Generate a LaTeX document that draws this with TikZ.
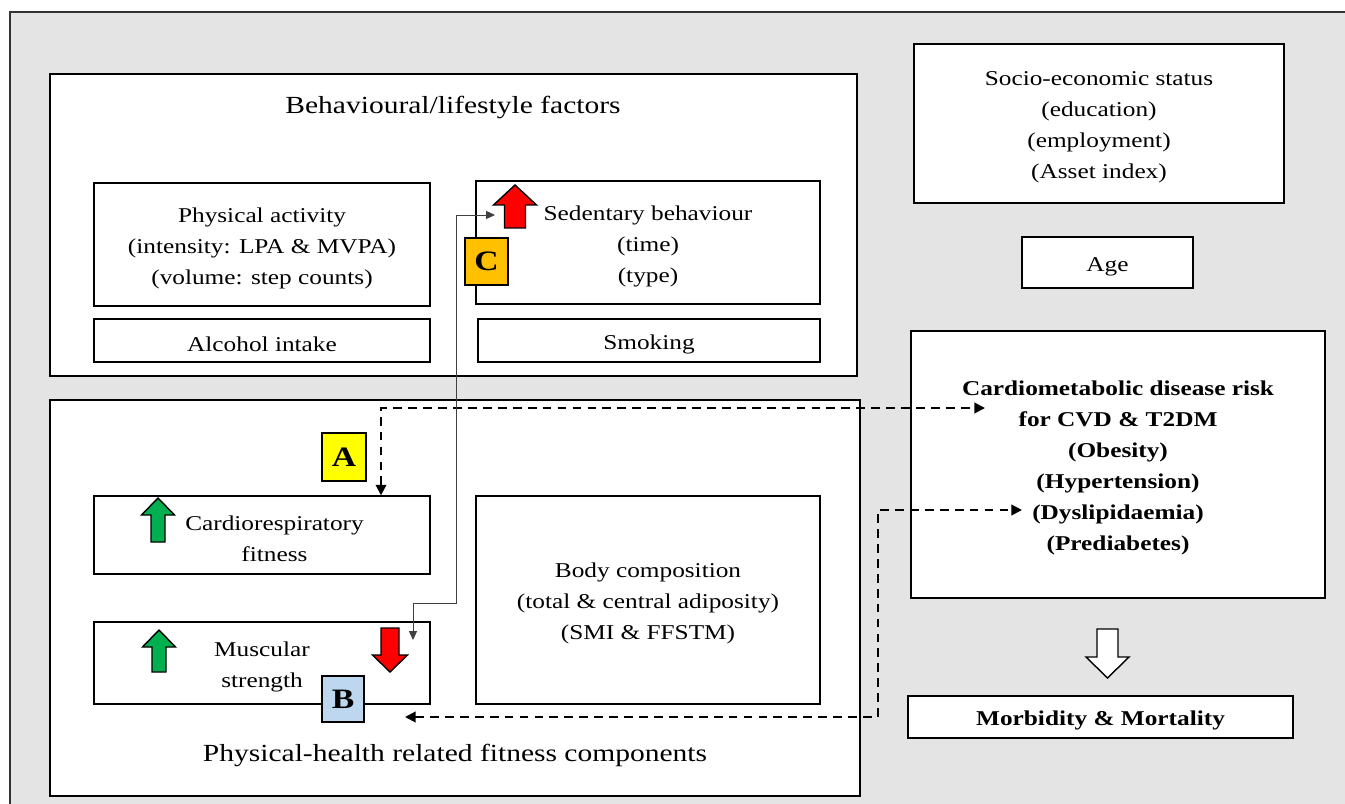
\documentclass[tikz,border=0pt]{standalone}
\usepackage{fontspec}
\setmainfont{Liberation Serif}[FakeStretch=1.2]
\usetikzlibrary{positioning, arrows.meta}

\definecolor{bggray}{HTML}{E4E4E4}
\definecolor{upgreen}{HTML}{00B050}
\definecolor{downred}{HTML}{FF0000}
\definecolor{markyellow}{HTML}{FFFF00}
\definecolor{markorange}{HTML}{FFC000}
\definecolor{markblue}{HTML}{BDD7EE}

\newcommand{\bodyfont}{\fontsize{12}{17.6}\selectfont}
\newcommand{\titlefont}{\fontsize{14}{17.6}\selectfont}
\newcommand{\liftline}{\rule{0pt}{12.5pt}}
% block arrow: fill, tip, length, half width, shaft half width, head length, direction
\newcommand{\blockarr}[7]{\draw[line width=0.8pt, fill=#1, shift={#2}, yscale=#7] (0,0) -- (#4,#6) -- (#5,#6) -- (#5,#3) -- (-#5,#3) -- (-#5,#6) -- (-#4,#6) -- cycle;}

\begin{document}
\begin{tikzpicture}[x=0.02cm, y=-0.02cm,
    lowtext/.style={execute at begin node={\rule{0pt}{#1}}},
    lowtext/.default=12.5pt,
    box/.style={draw, line width=0.8pt, fill=white, inner sep=0pt, align=center, font=\bodyfont, lowtext},
    markbox/.style={draw, line width=0.8pt, inner sep=0pt, font=\fontsize{16}{18}\selectfont\bfseries},
    dashline/.style={line width=1.1pt, dash pattern=on 5pt off 3.5pt, {Triangle[length=6pt,width=6pt]}-{Triangle[length=6pt,width=6pt]}},
    thinline/.style={line width=0.5pt, draw=black!75, {Triangle[length=5pt,width=4.5pt]}-{Triangle[length=5pt,width=4.5pt]}}]
        \useasboundingbox (0,0) rectangle (1345,804);
        \draw[line width=1.2pt, draw=black!80, fill=bggray] (10,12) rectangle (1375,830);

        % Nodes
        \node[box, minimum width=16.14cm, minimum height=6.04cm] (beh) at (453.5,225) {};
        \node[font=\titlefont, lowtext=12.5pt] (behtitle) at (453,105) {Behavioural/lifestyle factors};
        \node[box, minimum width=6.72cm, minimum height=2.46cm] (pa) at (262,244.5) {\liftline Physical activity\\(intensity: LPA \& MVPA)\\(volume: step counts)};
        \node[box, minimum width=6.88cm, minimum height=2.46cm] (sb) at (648,242.5) {\liftline Sedentary behaviour\\(time)\\(type)};
        \node[box, lowtext=10pt, minimum width=6.72cm, minimum height=0.86cm] (alc) at (262,340.5) {Alcohol intake};
        \node[box, lowtext=11pt, minimum width=6.84cm, minimum height=0.86cm] (smk) at (649,340.5) {Smoking};

        \node[box, minimum width=7.4cm, minimum height=3.18cm] (ses) at (1099,123.5) {\liftline Socio-economic status\\(education)\\(employment)\\(Asset index)};
        \node[box, minimum width=3.42cm, minimum height=1.02cm] (age) at (1107.5,262.5) {Age};
        \node[box, minimum width=8.28cm, minimum height=5.34cm, font=\bodyfont\bfseries] (cmd) at (1118,464.5) {\liftline Cardiometabolic disease risk\\for CVD \& T2DM\\(Obesity)\\(Hypertension)\\(Dyslipidaemia)\\(Prediabetes)};
        \node[box, lowtext=10.5pt, minimum width=7.7cm, minimum height=0.84cm, font=\bodyfont\bfseries] (mm) at (1100.5,717) {Morbidity \& Mortality};

        \node[box, minimum width=16.2cm, minimum height=7.92cm] (phy) at (455,598) {};
        \node[font=\titlefont, lowtext=12.5pt] (phytitle) at (455,753) {Physical-health related fitness components};
        \node[box, minimum width=6.72cm, minimum height=1.56cm] (crf) at (262,535) {};
        \node[font=\bodyfont, align=center] (crftext) at (274.5,536) {\rule{0pt}{11pt}Cardiorespiratory\\fitness};
        \node[box, minimum width=6.72cm, minimum height=1.64cm] (ms) at (262,663) {\liftline Muscular\\strength};
        \node[box, minimum width=6.88cm, minimum height=4.16cm] (bc) at (648,600) {\liftline Body composition\\(total \& central adiposity)\\(SMI \& FFSTM)};

        \node[markbox, fill=markyellow, minimum width=0.88cm, minimum height=0.96cm] (markA) at (344,457) {A};
        \node[markbox, fill=markblue, minimum width=0.84cm, minimum height=0.92cm] (markB) at (343,699) {B};
        \node[markbox, fill=markorange, minimum width=0.86cm, minimum height=0.94cm] (markC) at (486.5,261.5) {C};

        % Block arrows
        \blockarr{upgreen}{(158,498)}{44}{16.5}{7}{17}{1}
        \blockarr{upgreen}{(159,630)}{42}{16.5}{7}{17}{1}
        \blockarr{downred}{(515,185)}{43}{21.5}{10.5}{20}{1}
        \blockarr{downred}{(390,672)}{44}{17.5}{9}{17}{-1}
        \blockarr{white}{(1107.5,678)}{49}{21.5}{10.5}{21}{-1}

        % Arrows
        \coordinate (aturn) at (381,408);
        \coordinate (aend) at (985,408);
        \coordinate (bend) at (405,717);
        \coordinate (bturn) at (878,510);
        \coordinate (bend2) at (1022,510);
        \coordinate (cstart) at (495,215);
        \coordinate (cturn) at (456,603);
        \coordinate (cend) at (413,640);
        \draw[dashline] (crf.north -| aturn) -- (aturn) -- (aend);
        \draw[dashline] (bend) -| (bturn) -- (bend2);
        \draw[thinline] (cstart) -| (cturn) -| (cend);
    \end{tikzpicture}
\end{document}
